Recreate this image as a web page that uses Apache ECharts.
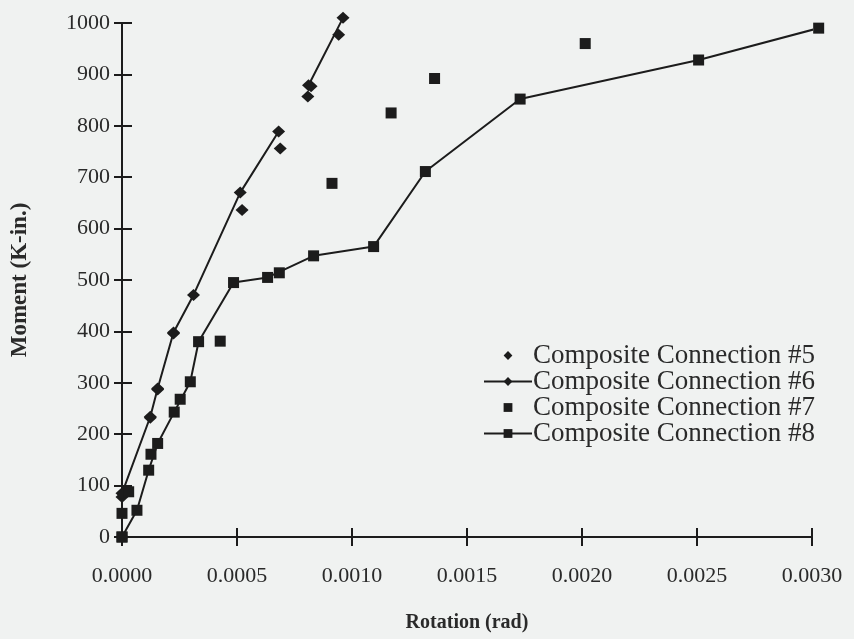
<!DOCTYPE html>
<html>
<head>
<meta charset="utf-8">
<script src="https://cdn.jsdelivr.net/npm/echarts@6/dist/echarts.min.js"></script>
<style>
  html, body { margin: 0; padding: 0; background: #f0f2f1; }
  #chart { width: 854px; height: 639px; }
</style>
</head>
<body>
<div id="chart"></div>
<script>
// rotation (rad) / moment (K-in.)
const conn5X = [0, 0, 0.000123, 0.000155, 0.000224, 0.000522, 0.000688, 0.000822, 0.000808, 0.000942]
const conn5Y = [0, 78, 232, 287, 396, 636, 756, 877, 857, 977]
// null marks the gap in the #6 curve
const conn6X = [0, 0, 0.000123, 0.000155, 0.000224, 0.000311, 0.000514, 0.000681, null, 0.000811, 0.000961]
const conn6Y = [0, 85, 234, 289, 398, 471, 670, 789, null, 879, 1010]
const conn7X = [0, 0, 0.000029, 0.000126, 0.000253, 0.000427, 0.000684, 0.000913, 0.00117, 0.001359, 0.002014]
const conn7Y = [0, 46, 88, 161, 268, 381, 514, 688, 825, 892, 960]
const conn8X = [0, 0.000065, 0.000116, 0.000155, 0.000227, 0.000297, 0.000333, 0.000485, 0.000633, 0.000833, 0.001094, 0.001319, 0.001731, 0.002507, 0.003029]
const conn8Y = [0, 52, 130, 182, 243, 302, 380, 495, 505, 547, 565, 711, 852, 928, 990]
const seriesNames = ['Composite Connection #5', 'Composite Connection #6', 'Composite Connection #7', 'Composite Connection #8']

function pairs (xs, ys) {
  return xs.map((x, i) => x === null ? [0.00075, '-'] : [x, ys[i]])
}

const ink = '#1c1c1c'
const serif = 'Liberation Serif'

let myChart = echarts.init(document.getElementById('chart'))

let tickLabel = { color: '#2a2a2a', fontFamily: serif, fontSize: 22 }

// markers only: drawn as line series with an invisible line so the legend keeps a point icon
function pointSeries (name, symbol, size, xs, ys) {
  return {
    name: name,
    type: 'line',
    symbol: symbol,
    symbolSize: size,
    showAllSymbol: true,
    clip: false,
    lineStyle: { opacity: 0, width: 0 },
    itemStyle: { color: ink, opacity: 1 },
    data: pairs(xs, ys)
  }
}

function curveSeries (name, symbol, size, xs, ys) {
  return {
    name: name,
    type: 'line',
    symbol: symbol,
    symbolSize: size,
    showAllSymbol: true,
    connectNulls: false,
    clip: false,
    lineStyle: { color: ink, width: 2 },
    itemStyle: { color: ink, opacity: 1 },
    data: pairs(xs, ys)
  }
}

let option = {
  backgroundColor: '#f0f2f1',
  animation: false,
  grid: { left: 122, right: 42, top: 23, bottom: 102, outerBoundsMode: 'none' },
  legend: {
    orient: 'vertical',
    left: 478,
    top: 337,
    itemWidth: 48,
    itemHeight: 11,
    itemGap: -1,
    textStyle: { color: '#2a2a2a', fontFamily: serif, fontSize: 27, padding: [0, 0, 0, -4] },
    data: seriesNames
  },
  xAxis: [{
    type: 'value',
    min: 0,
    max: 0.003,
    interval: 0.0005,
    name: 'Rotation (rad)',
    nameLocation: 'middle',
    nameGap: 76,
    nameTextStyle: { color: '#2a2a2a', fontFamily: serif, fontSize: 20, fontWeight: 'bold' },
    axisLine: { lineStyle: { color: ink, width: 2 } },
    axisTick: { length: 9, lineStyle: { color: ink, width: 2 } },
    axisLabel: Object.assign({ margin: 28, formatter: v => v.toFixed(4) }, tickLabel),
    splitLine: { show: false }
  }, {
    type: 'value',
    position: 'bottom',
    min: 0,
    max: 0.003,
    interval: 0.0005,
    axisLine: { show: false },
    axisTick: { inside: true, length: 9, lineStyle: { color: ink, width: 2 } },
    axisLabel: { show: false },
    splitLine: { show: false }
  }],
  yAxis: [{
    type: 'value',
    min: 0,
    max: 1000,
    interval: 100,
    name: 'Moment (K-in.)',
    nameLocation: 'middle',
    nameGap: 90,
    nameTextStyle: { color: '#2a2a2a', fontFamily: serif, fontSize: 23, fontWeight: 'bold' },
    axisLine: { show: true, lineStyle: { color: ink, width: 2 } },
    axisTick: { show: true, length: 8, lineStyle: { color: ink, width: 2 } },
    axisLabel: Object.assign({ margin: 12, formatter: v => String(v) }, tickLabel),
    splitLine: { show: false }
  }, {
    type: 'value',
    position: 'left',
    min: 0,
    max: 1000,
    interval: 100,
    axisLine: { show: false },
    axisTick: { show: true, inside: true, length: 10, lineStyle: { color: ink, width: 2 } },
    axisLabel: { show: false },
    splitLine: { show: false }
  }],
  series: [
    pointSeries(seriesNames[0], 'diamond', [13, 12], conn5X, conn5Y),
    curveSeries(seriesNames[1], 'diamond', [13, 12], conn6X, conn6Y),
    pointSeries(seriesNames[2], 'rect', 11, conn7X, conn7Y),
    curveSeries(seriesNames[3], 'rect', 11, conn8X, conn8Y)
  ]
}
myChart.setOption(option, true)
</script>
</body>
</html>
